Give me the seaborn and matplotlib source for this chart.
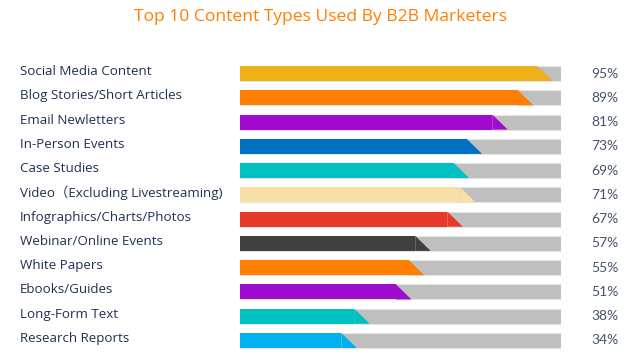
import matplotlib
matplotlib.use("Agg")
import matplotlib.pyplot as plt
import matplotlib.transforms as mtransforms
from matplotlib.patches import Polygon
import seaborn as sns
import pandas as pd

# data
categories = [
    "Social Media Content",
    "Blog Stories/Short Articles",
    "Email Newletters",
    "In-Person Events",
    "Case Studies",
    "Video\uff08Excluding Livestreaming)",
    "Infographics/Charts/Photos",
    "Webinar/Online Events",
    "White Papers",
    "Ebooks/Guides",
    "Long-Form Text",
    "Research Reports",
]
values = [95, 89, 81, 73, 69, 71, 67, 57, 55, 51, 38, 34]
bar_colors = ["#F0B01A", "#FF7F00", "#A00BD0", "#0070C0", "#00C0C0", "#F8DFA5",
              "#E8392A", "#404040", "#FF7F00", "#A00BD0", "#00C0C0", "#00B0F0"]

sns.set_theme(style="white")
plt.rcParams['font.family'] = ['Open Sans', 'Noto Sans CJK SC', 'DejaVu Sans']

df = pd.DataFrame({"category": categories, "value": values, "full": [100] * len(values)})
slant = 2.4   # half the horizontal run of the slanted bar end, in % units
bar_h = 0.62
df["flat"] = df["value"] - slant

fig = plt.figure(figsize=(6.4, 3.55), dpi=100)
ax = fig.add_axes([240 / 640, 1 - 352.6 / 355, 321 / 640, 291.2 / 355])

sns.barplot(data=df, x="full", y="category", color="#BFBFBF", width=bar_h,
            saturation=1, edgecolor="#E4E4E4", linewidth=0.8, ax=ax)
sns.barplot(data=df, x="flat", y="category", hue="category", palette=bar_colors,
            width=bar_h, saturation=1, linewidth=0, legend=False, ax=ax)

# slanted end of each coloured bar
for i, (v, c) in enumerate(zip(values, bar_colors)):
    top, bot = i - bar_h / 2, i + bar_h / 2
    ax.add_patch(Polygon([(v - slant, top), (v + slant, bot), (v - slant, bot)],
                         closed=True, facecolor=c, edgecolor="none"))

ax.set_xlim(0, 100)
ax.set_axis_off()

trans = mtransforms.blended_transform_factory(fig.transFigure, ax.transData)
for i, (cat, v) in enumerate(zip(categories, values)):
    ax.text(20 / 640, i - 0.08, cat, transform=trans, ha="left", va="center",
            fontsize=9.6, color="#1F3050")
    ax.text(605 / 640, i, f"{v}%", transform=trans, ha="center", va="center",
            fontsize=10, color="#44546A", family=["Lato", "DejaVu Sans"])

fig.text(321 / 640, 1 - 17 / 355, "Top 10 Content Types Used By B2B Marketers",
         ha="center", va="center", fontsize=12.6, color="#FF8000")

fig.savefig("out.png", dpi=100)
